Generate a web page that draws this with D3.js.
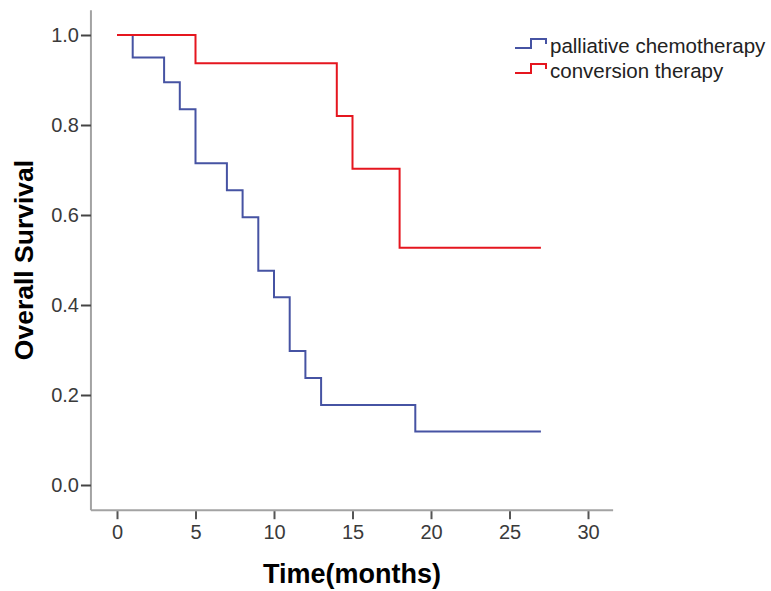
<!DOCTYPE html>
<html>
<head>
<meta charset="utf-8">
<script src="https://cdn.jsdelivr.net/npm/d3@7"></script>
<style>
  body { margin: 0; background: #fff; }
  svg text { font-family: "Liberation Sans", Arial, sans-serif; }
</style>
</head>
<body>
<div id="chart"></div>
<script>
// Kaplan-Meier steps
var palliativeTimes = [0, 1, 3, 4, 5, 7, 8, 9, 10, 11, 12, 13, 19, 27]
var palliativeSurv  = [1, 0.95, 0.895, 0.835, 0.715, 0.655, 0.595, 0.476, 0.417, 0.298, 0.238, 0.178, 0.119, 0.119]
var conversionTimes = [0, 5, 14, 15, 18, 27]
var conversionSurv  = [1, 0.9375, 0.82, 0.703, 0.527, 0.527]

var seriesNames = ['palliative chemotherapy', 'conversion therapy']
var xTicks = [0, 5, 10, 15, 20, 25, 30]
var yTicks = [0, 0.2, 0.4, 0.6, 0.8, 1.0]

var width = 771, height = 591
var colors = ['#4653a3', '#e5161f']
var axisColor = '#a3a3a3'

var svg = d3.select('#chart').append('svg')
    .attr('width', width)
    .attr('height', height)

var xScale = d3.scaleLinear().domain([0, 30]).range([117, 588])
var yScale = d3.scaleLinear().domain([0, 1]).range([485, 35])

/* axis lines */
svg.append('line')
    .attr('x1', xScale(-1.66)).attr('x2', xScale(-1.66))
    .attr('y1', yScale(1.055)).attr('y2', yScale(-0.056))
    .style('stroke', axisColor).style('stroke-width', 2)
svg.append('line')
    .attr('x1', xScale(-1.66)).attr('x2', xScale(31.6))
    .attr('y1', yScale(-0.056)).attr('y2', yScale(-0.056))
    .style('stroke', axisColor).style('stroke-width', 2)

var xAxis = d3.axisBottom(xScale).tickValues(xTicks).tickSize(8).tickPadding(6).tickFormat(d3.format('d'))
var yAxis = d3.axisLeft(yScale).tickValues(yTicks).tickSize(10).tickPadding(2).tickFormat(d3.format('.1f'))

var gx = svg.append('g')
    .attr('transform', `translate(0, ${yScale(-0.056) + 1})`)
    .call(xAxis)
var gy = svg.append('g')
    .attr('transform', `translate(${xScale(-1.66)}, 0)`)
    .call(yAxis)

;[gx, gy].forEach(g => {
    g.select('.domain').remove()
    g.selectAll('line').style('stroke', '#555').style('stroke-width', 2)
    g.selectAll('text')
        .style('font-size', '20px')
        .style('fill', '#3a3a3a')
        .style('font-family', '"Liberation Sans", Arial, sans-serif')
})
gy.selectAll('line').style('stroke', '#444')

/* survival curves */
var line = d3.line()
    .x(d => xScale(d[0]))
    .y(d => yScale(d[1]))
    .curve(d3.curveStepAfter)

var curves = [
    d3.zip(palliativeTimes, palliativeSurv),
    d3.zip(conversionTimes, conversionSurv)
]

svg.append('g').selectAll('path')
    .data(curves).enter()
    .append('path')
    .attr('d', line)
    .style('fill', 'none')
    .style('stroke', (d, i) => colors[i])
    .style('stroke-width', 2)

/* legend */
var legend = svg.append('g').attr('transform', 'translate(515, 48)')
var iconLine = d3.line().curve(d3.curveStepAfter)
seriesNames.forEach((name, i) => {
    var g = legend.append('g').attr('transform', `translate(0, ${i * 25})`)
    g.append('path')
        .attr('d', iconLine([[0, 0], [16, -9], [31, -9]]) + 'v5')
        .style('fill', 'none')
        .style('stroke', colors[i])
        .style('stroke-width', 2)
    g.append('text')
        .attr('x', 35)
        .attr('y', 5)
        .style('font-size', '20.5px')
        .style('fill', '#222')
        .text(name)
})

/* axis titles */
svg.append('text')
    .attr('x', 352)
    .attr('y', 583)
    .attr('text-anchor', 'middle')
    .style('font-size', '27px')
    .style('font-weight', 'bold')
    .text('Time(months)')

svg.append('text')
    .attr('transform', 'translate(33, 260) rotate(-90)')
    .attr('text-anchor', 'middle')
    .style('font-size', '26.5px')
    .style('font-weight', 'bold')
    .text('Overall Survival')
</script>
</body>
</html>
